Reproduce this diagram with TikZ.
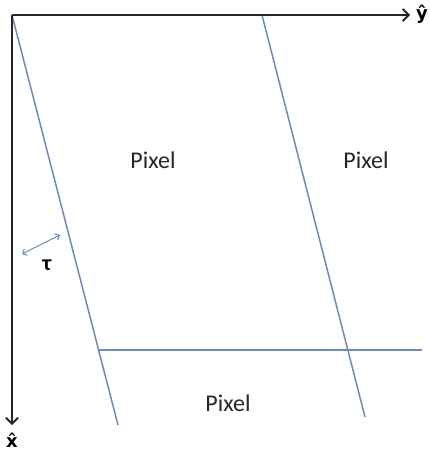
\documentclass[tikz,border=0pt]{standalone}
\usepackage{fontspec}
\setmainfont{Carlito}
\newfontfamily\hatfont{DejaVu Sans}
\usetikzlibrary{arrows.meta}
\definecolor{edgeBlue}{RGB}{112, 138, 178}

\begin{document}
\begin{tikzpicture}[
  x=1pt,y=-1pt,
  axis/.style={line width=1.8pt, black!85, -{Straight Barb[length=6pt,width=12pt,line width=1.8pt]}},
  edge/.style={edgeBlue, line width=1.5pt},
  pix/.style={font=\fontsize{24}{28}\selectfont, text=black!85},
  axlab/.style={font=\fontsize{18}{22}\hatfont\bfseries, inner sep=0pt}
]
\path[use as bounding box] (0,0) rectangle (430,455);

\coordinate (o) at (12,15);
\coordinate (yend) at (410,15);
\coordinate (xend) at (12,425);
\coordinate (cutL) at (98.5,350);
\coordinate (cutR) at (422,350);
\coordinate (lbot) at (118,425);
\coordinate (rtop) at (262,15);
\coordinate (rbot) at (365,417);

% pixel boundaries
\draw[edge] (o) -- (lbot);
\draw[edge] (rtop) -- (rbot);
\draw[edge] (cutL) -- (cutR);

% axes
\draw[axis] (o) -- (yend);
\draw[axis] (o) -- (xend);
\node[axlab] (ylab) at (422,14) {y^^^^0302};
\node[axlab] (xlab) at (12,440) {x^^^^0302};

\node[pix] (pixA) at (153,160) {Pixel};
\node[pix] (pixB) at (366,160) {Pixel};
\node[pix] (pixC) at (228,403) {Pixel};

% shear offset
\coordinate (tauA) at (22,254);
\coordinate (tauB) at (60,235);
\draw[edgeBlue, line width=1.1pt, {Straight Barb[length=3.5pt,width=7pt]}-{Straight Barb[length=3.5pt,width=7pt]}] (tauA) -- (tauB);
\node[axlab, font=\fontsize{22}{24}\selectfont\bfseries] (tau) at (47,265) {τ};
\end{tikzpicture}
\end{document}
